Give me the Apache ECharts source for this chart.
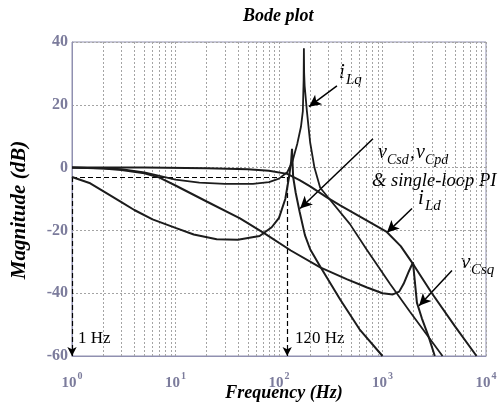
<!DOCTYPE html>
<html><head><meta charset="utf-8">
<script src="https://cdn.jsdelivr.net/npm/echarts@6/dist/echarts.min.js"></script>
<style>html,body{margin:0;padding:0;background:#fff}#c{width:499px;height:403px}</style>
</head><body><div id="c"></div>
<script>
// ---- data (frequency in Hz, magnitude in dB) ----
const iLdF  = [1, 5, 20, 50, 80, 120, 158, 200, 290, 390, 600, 1100, 1500, 2000, 3000, 5000, 8100];
const iLdDB = [0, 0, -0.2, -0.5, -1, -2, -4, -6, -9.5, -12, -15.5, -20.5, -25, -31, -40, -50.5, -60];

const iLqF  = [1, 2, 3, 5, 7, 10, 17, 30, 56, 80, 100, 120, 135, 150, 163, 170, 173, 174, 175, 177, 186, 200, 220, 250, 300, 485, 700, 1180, 1850, 3800];
const iLqDB = [0, -0.2, -0.5, -1.5, -2.6, -3.8, -4.8, -5.2, -5.2, -4.6, -3.5, -1.5, 2, 7.5, 13, 18, 28, 38, 30, 26, 18, 8, 0, -6.4, -9.6, -18, -26, -37, -46, -60];

const vCsdF  = [1, 1.5, 2, 3, 4, 6, 10, 15, 25, 40, 65, 85, 100, 115, 125, 131, 133.6, 135, 137, 145, 158, 178, 200, 250, 390, 600, 1000];
const vCsdDB = [-3, -5, -7.5, -11, -13.5, -16.5, -19.2, -21.3, -22.8, -23, -21.8, -19, -16, -10, -3, 2, 6, 2, -3, -8, -14, -21.5, -26, -31.5, -42, -51.5, -60];

const vCsqF  = [1, 2, 3, 5, 7, 10, 20, 42, 73, 130, 250, 450, 710, 1000, 1260, 1450, 1600, 1800, 1970, 2050, 2150, 2400, 2800, 3200];
const vCsqDB = [0, -0.3, -0.8, -1.8, -3.2, -5.7, -10.8, -16.2, -21, -26.4, -31.8, -35.5, -38.2, -40, -40.4, -39.5, -37, -33, -30.2, -36, -43, -48, -54, -60];

const xTickExp = [0, 1, 2, 3, 4];
const yTicks = [-60, -40, -20, 0, 20, 40];
const minorF = [2,3,4,5,6,7,8,9,20,30,40,50,60,70,80,90,200,300,400,500,600,700,800,900,2000,3000,4000,5000,6000,7000,8000,9000];

const cutoffDB = -3, fLow = 1, fCut = 120;

function pairs(f, d) { return f.map((v, i) => [v, d[i]]); }

const serif = '"Liberation Serif", "Times New Roman", serif';
const tickColor = '#7c7c9c';
const gridLine = { color: '#a4a4a4', type: [2, 2], width: 1 };

const chart = echarts.init(document.getElementById('c'), null, { renderer: 'canvas' });

function curve(name, f, d, w) {
  return { name, type: 'line', data: pairs(f, d), showSymbol: false, symbol: 'none',
    lineStyle: { color: '#1c1c1c', width: w || 2 }, z: 5, animation: false };
}

const arrowStyle = { color: '#000', width: 1.5, type: 'solid' };
function arrow(from, to) {
  return [{ coord: from, lineStyle: arrowStyle }, { coord: to }];
}

const option = {
  animation: false,
  grid: { left: 72, right: 13, top: 42, bottom: 47, show: true, borderColor: '#9090b0', borderWidth: 1,
    containLabel: false, outerBoundsMode: 'none' },
  xAxis: {
    type: 'log', logBase: 10, min: 1, max: 10000,
    axisLine: { show: true, onZero: false, lineStyle: { color: '#9090b0' } },
    axisTick: { show: false },
    splitLine: { show: true, lineStyle: gridLine },
    axisLabel: {
      margin: 15,
      formatter: v => { const e = Math.round(Math.log10(v)); return xTickExp.includes(e) ? '{b|10}{e|' + e + '}' : ''; },
      rich: {
        b: { fontFamily: serif, fontSize: 15, fontWeight: 'bold', color: tickColor, lineHeight: 20, verticalAlign: 'bottom' },
        e: { fontFamily: serif, fontSize: 10, fontWeight: 'bold', color: tickColor, lineHeight: 20, verticalAlign: 'top', padding: [0, 0, 6, 1] }
      }
    }
  },
  yAxis: {
    type: 'value', min: -60, max: 40, interval: 20,
    axisLine: { show: true, lineStyle: { color: '#9090b0' } },
    axisTick: { show: false },
    splitLine: { show: true, lineStyle: gridLine },
    axisLabel: { margin: 4, fontFamily: serif, fontSize: 16, fontWeight: 'bold', color: tickColor,
      formatter: v => yTicks.includes(v) ? String(v) : '' }
  },
  series: [
    { type: 'line', data: [], silent: true, animation: false,
      markLine: { silent: true, symbol: 'none', label: { show: false },
        lineStyle: gridLine,
        data: minorF.map(f => ({ xAxis: f })) } },
    curve('iLd', iLdF, iLdDB, 2),
    curve('iLq', iLqF, iLqDB, 1.8),
    curve('vCsd', vCsdF, vCsdDB, 2),
    curve('vCsq', vCsqF, vCsqDB, 2),
    { type: 'line', data: [], silent: true, animation: false,
      markLine: { silent: true, symbol: ['none', 'none'], label: { show: false },
        lineStyle: { color: '#000', type: [5, 3], width: 1.2 },
        data: [
          [{ coord: [fLow, cutoffDB] }, { coord: [fCut, cutoffDB] }]
        ] } },
    { type: 'line', data: [], silent: true, animation: false,
      markLine: { silent: true, symbol: ['none', 'arrow'], symbolSize: [7, 9], label: { show: false },
        lineStyle: { color: '#000', type: [5, 3], width: 1.2 },
        data: [
          [{ coord: [fLow, cutoffDB] }, { coord: [fLow, -60] }],
          [{ coord: [fCut, cutoffDB] }, { coord: [fCut, -60] }]
        ] } },
    { type: 'line', data: [], silent: true, animation: false,
      markLine: { silent: true, symbol: ['none', 'arrow'], symbolSize: [9, 12], label: { show: false },
        lineStyle: arrowStyle,
        data: [
          arrow([363, 26], [195, 19.4]),
          arrow([809, 9.2], [160, -13]),
          arrow([1928, -13], [1105, -20.7]),
          arrow([4690, -32.8], [2255, -44])
        ] } }
  ],
  graphic: [
    { type: 'text', left: 243, top: 7, style: { text: 'Bode plot', font: 'italic bold 18px ' + serif, fill: '#000' } },
    { type: 'text', x: 20, y: 210, rotation: Math.PI / 2,
      style: { text: 'Magnitude (dB)', font: 'italic bold 21px ' + serif, fill: '#000', align: 'center', verticalAlign: 'middle' } },
    { type: 'text', x: 284, y: 393,
      style: { text: 'Frequency (Hz)', font: 'italic bold 18px ' + serif, fill: '#000', align: 'center', verticalAlign: 'middle' } },
    { type: 'text', left: 78, top: 330, style: { text: '1 Hz', font: '17px ' + serif, fill: '#000' } },
    { type: 'text', left: 295, top: 330, style: { text: '120 Hz', font: '17px ' + serif, fill: '#000' } },
    { type: 'text', left: 339, top: 62, style: { text: 'i', font: 'italic 21px ' + serif, fill: '#000' } },
    { type: 'text', left: 346, top: 73, style: { text: 'Lq', font: 'italic 15px ' + serif, fill: '#000' } },
    { type: 'text', left: 378, top: 143, style: { text: 'v', font: 'italic 20px ' + serif, fill: '#000' } },
    { type: 'text', left: 387, top: 153, style: { text: 'Csd', font: 'italic 14px ' + serif, fill: '#000' } },
    { type: 'text', left: 410, top: 143, style: { text: ',', font: 'italic 20px ' + serif, fill: '#000' } },
    { type: 'text', left: 416, top: 143, style: { text: 'v', font: 'italic 20px ' + serif, fill: '#000' } },
    { type: 'text', left: 425, top: 153, style: { text: 'Cpd', font: 'italic 14px ' + serif, fill: '#000' } },
    { type: 'text', left: 372, top: 172, style: { text: '& single-loop PI', font: 'italic 18.5px ' + serif, fill: '#000' } },
    { type: 'text', left: 418, top: 188, style: { text: 'i', font: 'italic 21px ' + serif, fill: '#000' } },
    { type: 'text', left: 425, top: 199, style: { text: 'Ld', font: 'italic 15px ' + serif, fill: '#000' } },
    { type: 'text', left: 461, top: 252, style: { text: 'v', font: 'italic 21px ' + serif, fill: '#000' } },
    { type: 'text', left: 471, top: 263, style: { text: 'Csq', font: 'italic 15px ' + serif, fill: '#000' } }
  ]
};
chart.setOption(option);
</script>
</body></html>
